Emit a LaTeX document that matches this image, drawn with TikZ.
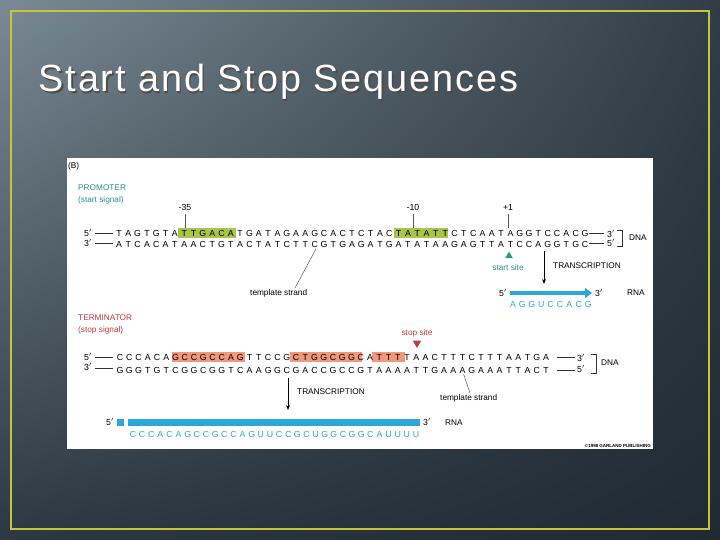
\documentclass[tikz,border=0pt]{standalone}
\usepackage{fontspec}
\setmainfont{Liberation Sans}
\newfontfamily\titlefont[LetterSpace=5]{Liberation Sans}
\usetikzlibrary{arrows.meta, shapes.geometric, positioning, calc, shadings}

\definecolor{slidelight}{HTML}{7A8A94}
\definecolor{slidedark}{HTML}{1F2A33}
\definecolor{frameyellow}{HTML}{C9C33A}
\definecolor{boxgreen}{HTML}{A9C44A}
\definecolor{boxsalmon}{HTML}{F0987C}
\definecolor{teallabel}{HTML}{2A9683}
\definecolor{redlabel}{HTML}{C23A45}
\definecolor{rnablue}{HTML}{2BA8D8}

\tikzset{
  base/.style={font=\fontsize{8.8}{9}\selectfont, inner sep=0pt, text height=6.4pt, text depth=0pt},
  lbl/.style={font=\fontsize{8.3}{12}\selectfont, inner sep=0pt, anchor=west},
  tick/.style={gray!70!black, line width=0.5pt},
  endline/.style={black!80, line width=0.6pt}
}

\begin{document}
\begin{tikzpicture}[x=1bp, y=-1bp]
    % Slide background
    \shade[upper left=slidelight, upper right=slidedark!80!slidelight, lower left=slidedark!85!slidelight, lower right=slidedark] (0,0) rectangle (720,540);
    \draw[frameyellow, line width=2.5pt] (11,11) rectangle (709,529);
    \node[anchor=west, text=black!70, font=\titlefont\fontsize{38}{40}\selectfont] at (36.5,83.5) {Start and Stop Sequences};
    \node (title) [anchor=west, text=white, font=\titlefont\fontsize{38}{40}\selectfont] at (35,82) {Start and Stop Sequences};

    % Figure panel
    \fill[white] (67,158) rectangle (653,449);
    \node (panel) [lbl] at (68,166) {(B)};

    % Promoter
    \node (prom) [lbl, teallabel, align=left] at (78,194.5) {PROMOTER\\(start signal)};
    \fill[boxgreen] (178,228) rectangle (236,238);
    \fill[boxgreen] (394,228) rectangle (448,238);
    \foreach \c [count=\i from 0] in {T,A,G,T,G,T,A,T,T,G,A,C,A,T,G,A,T,A,G,A,A,G,C,A,C,T,C,T,A,C,T,A,T,A,T,T,C,T,C,A,A,T,A,G,G,T,C,C,A,C,G}
        \node (pt\i) [base] at (119+\i*9.32,233) {\c};
    \foreach \c [count=\i from 0] in {A,T,C,A,C,A,T,A,A,C,T,G,T,A,C,T,A,T,C,T,T,C,G,T,G,A,G,A,T,G,A,T,A,T,A,A,G,A,G,T,T,A,T,C,C,A,G,G,T,G,C}
        \node (pb\i) [base] at (119+\i*9.32,244) {\c};
    \node (p5a) [base] at (88,233) {5$'$};
    \node (p3a) [base] at (88,243) {3$'$};
    \draw[endline] (95,233) -- (113,233) (95,243) -- (113,243);
    \draw[endline] (589,233) -- (604,233) (589,243) -- (604,243);
    \node (p3b) [base] at (611,234) {3$'$};
    \node (p5b) [base] at (611,243) {5$'$};
    \draw[endline] (617,230) -- (622,230) -- (622,246) -- (617,246);
    \node (pdna) [lbl] at (629,238) {DNA};
    \node (m35) [base] at (185,207) {-35};
    \node (m10) [base] at (413,207) {-10};
    \node (p1) [base] at (508,207) {+1};
    \draw[tick] (m35.south) ++(0,4) -- ++(0,14);
    \draw[tick] (m10.south) ++(0,4) -- ++(0,14);
    \draw[tick] (p1.south) ++(0,4) -- ++(0,14);
    \coordinate (ptmpl) at (295,288);
    \draw[tick] (pb21.south) ++(1,2) -- (ptmpl);
    \node (ptlab) [lbl] at (250,293) {template strand};
    \node (start) [fill=teallabel, regular polygon, regular polygon sides=3, inner sep=0pt, minimum size=9pt] at (509,256) {};
    \node (startlab) [teallabel, font=\fontsize{8.3}{9}\selectfont, inner sep=0pt] at (508,268) {start site};
    \coordinate (parr) at (544,284);
    \draw[-{Stealth[length=5pt]}, line width=0.7pt] (544,251) -- (parr);
    \node (ptrans) [lbl] at (553,266) {TRANSCRIPTION};
    \node (prna5) [base] at (503,293) {5$'$};
    \coordinate (prnaend) at (592,293);
    \draw[rnablue, line width=3.5pt, -{Triangle[length=7pt, width=10pt]}] (510,293) -- (prnaend);
    \node (prna3) [base] at (599,293) {3$'$};
    \node (prna) [lbl] at (627,293) {RNA};
    \foreach \c [count=\i from 0] in {A,G,G,U,C,C,A,C,G}
        \node (pr\i) [base, rnablue] at (513+\i*9.4,304) {\c};

    % Terminator
    \node (term) [lbl, redlabel, align=left] at (78,324.5) {TERMINATOR\\(stop signal)};
    \fill[boxsalmon] (172,352) rectangle (245,362);
    \fill[boxsalmon] (290,352) rectangle (362,362);
    \fill[boxsalmon] (372,352) rectangle (405,362);
    \foreach \c [count=\i from 0] in {C,C,C,A,C,A,G,C,C,G,C,C,A,G,T,T,C,C,G,C,T,G,G,C,G,G,C,A,T,T,T,T,A,A,C,T,T,T,C,T,T,T,A,A,T,G,A}
        \node (tt\i) [base] at (120+\i*9.26,357) {\c};
    \foreach \c [count=\i from 0] in {G,G,G,T,G,T,C,G,G,C,G,G,T,C,A,A,G,G,C,G,A,C,C,G,C,C,G,T,A,A,A,A,T,T,G,A,A,A,G,A,A,A,T,T,A,C,T}
        \node (tb\i) [base] at (120+\i*9.26,370) {\c};
    \node (t5a) [base] at (88,357) {5$'$};
    \node (t3a) [base] at (88,367) {3$'$};
    \draw[endline] (95,357) -- (113,357) (95,368) -- (113,368);
    \draw[endline] (557,357) -- (575,357) (557,370) -- (575,370);
    \node (t3b) [base] at (581,358) {3$'$};
    \node (t5b) [base] at (581,369) {5$'$};
    \draw[endline] (591,354) -- (596,354) -- (596,373) -- (591,373);
    \node (tdna) [lbl] at (601,363) {DNA};
    \node (stoplab) [redlabel, font=\fontsize{8.3}{9}\selectfont, inner sep=0pt] at (417,333) {stop site};
    \node (stop) [fill=redlabel, regular polygon, regular polygon sides=3, shape border rotate=180, inner sep=0pt, minimum size=10pt] at (417,343) {};
    \coordinate (tarr) at (288,410);
    \draw[-{Stealth[length=5pt]}, line width=0.7pt] (288,378) -- (tarr);
    \node (ttrans) [lbl] at (297,392) {TRANSCRIPTION};
    \coordinate (ttmpl) at (470,393);
    \draw[tick] (tb37.south) ++(1,1) -- (ttmpl);
    \node (ttlab) [lbl] at (440,398) {template strand};
    \node (trna5) [base] at (110,422) {5$'$};
    \fill[rnablue] (117,419) rectangle (124,426);
    \fill[rnablue] (128,419) rectangle (420,426);
    \node (trna3) [base] at (427,422) {3$'$};
    \node (trna) [lbl] at (445,423) {RNA};
    \foreach \c [count=\i from 0] in {C,C,C,A,C,A,G,C,C,G,C,C,A,G,U,U,C,C,G,C,U,G,G,C,G,G,C,A,U,U,U,U}
        \node (tr\i) [base, rnablue] at (133+\i*9.13,434) {\c};
    \node (copy) [font=\fontsize{4.5}{5}\selectfont\bfseries, inner sep=0pt, anchor=east] at (651,446) {\copyright1998 GARLAND PUBLISHING};
\end{tikzpicture}
\end{document}
